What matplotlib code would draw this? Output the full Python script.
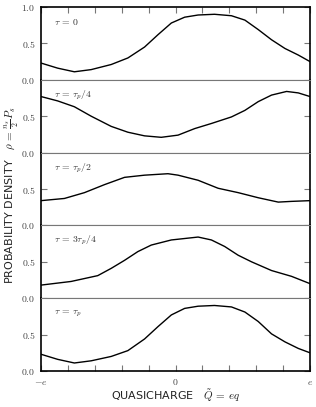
import matplotlib
matplotlib.use("Agg")
import matplotlib.pyplot as plt
import numpy as np

plt.rcParams['mathtext.fontset'] = 'cm'

panel_labels = [r'$\tau\,=\,0$', r'$\tau\,=\,\tau_p/4$', r'$\tau\,=\,\tau_p/2$',
                r'$\tau\,=\,3\tau_p/4$', r'$\tau\,=\,\tau_p$']

x1 = [-1.0, -0.876, -0.752, -0.627, -0.478, -0.354, -0.230, -0.130, -0.031, 0.068, 0.168, 0.29, 0.416, 0.516, 0.615, 0.714, 0.814, 0.913, 1.0]
y1 = [0.23, 0.16, 0.11, 0.14, 0.21, 0.30, 0.45, 0.62, 0.78, 0.86, 0.89, 0.90, 0.88, 0.82, 0.69, 0.55, 0.43, 0.34, 0.25]

x2 = [-1.0, -0.876, -0.752, -0.627, -0.478, -0.354, -0.230, -0.106, 0.019, 0.143, 0.267, 0.416, 0.516, 0.615, 0.714, 0.826, 0.913, 1.0]
y2 = [0.77, 0.71, 0.63, 0.50, 0.36, 0.28, 0.23, 0.21, 0.24, 0.33, 0.40, 0.49, 0.58, 0.70, 0.79, 0.84, 0.82, 0.77]

x3 = [-1.0, -0.826, -0.677, -0.528, -0.379, -0.230, -0.056, 0.019, 0.168, 0.317, 0.466, 0.615, 0.764, 0.863, 1.0]
y3 = [0.34, 0.37, 0.45, 0.56, 0.66, 0.69, 0.71, 0.69, 0.62, 0.51, 0.45, 0.38, 0.32, 0.33, 0.34]

x4 = [-1.0, -0.776, -0.578, -0.478, -0.379, -0.280, -0.180, -0.031, 0.168, 0.267, 0.366, 0.466, 0.565, 0.714, 0.863, 1.0]
y4 = [0.18, 0.23, 0.31, 0.41, 0.52, 0.64, 0.73, 0.80, 0.84, 0.80, 0.71, 0.59, 0.50, 0.38, 0.30, 0.20]

x5 = [-1.0, -0.876, -0.752, -0.627, -0.478, -0.354, -0.230, -0.130, -0.031, 0.068, 0.168, 0.29, 0.416, 0.516, 0.615, 0.714, 0.814, 0.913, 1.0]
y5 = [0.23, 0.16, 0.11, 0.14, 0.20, 0.28, 0.44, 0.61, 0.77, 0.86, 0.89, 0.90, 0.88, 0.81, 0.68, 0.51, 0.40, 0.31, 0.25]

xs = [x1, x2, x3, x4, x5]
ys = [y1, y2, y3, y4, y5]

xtick_pos = [-1.0, -0.8, -0.6, -0.4, -0.2, 0.0, 0.2, 0.4, 0.6, 0.8, 1.0]
xtick_labels = [r'$-e$', '', '', '', '', r'$0$', '', '', '', '', r'$e$']

fig = plt.figure(figsize=(3.16, 4.07), dpi=100)
gs = fig.add_gridspec(5, 1, left=41/316, right=310/316, top=1-7/407, bottom=1-371/407, hspace=0)
axes = [fig.add_subplot(gs[i]) for i in range(5)]

gray = '#777777'
for i, ax in enumerate(axes):
    ax.plot(xs[i], ys[i], color='black', lw=1.0, solid_joinstyle='round')
    ax.set_xlim(-1, 1)
    ax.set_ylim(0, 1.0)
    for s in ['left', 'right']:
        ax.spines[s].set_color('black')
        ax.spines[s].set_linewidth(1.2)
    ax.spines['top'].set_color('black' if i == 0 else gray)
    ax.spines['top'].set_linewidth(1.2 if i == 0 else 0.8)
    ax.spines['bottom'].set_color('black' if i == 4 else gray)
    ax.spines['bottom'].set_linewidth(1.2 if i == 4 else 0.8)
    if i == 0:
        ax.set_yticks([0.0, 0.5, 1.0])
        ax.set_yticklabels([r'$0.0$', r'$0.5$', r'$1.0$'])
    else:
        ax.set_yticks([0.0, 0.5])
        ax.set_yticklabels([r'$0.0$', r'$0.5$'])
    ax.tick_params(axis='y', direction='in', length=4, width=0.8, color=gray,
                   labelsize=7, labelcolor='#444444', right=True, pad=4)
    ax.set_xticks(xtick_pos)
    if i == 4:
        ax.set_xticklabels(xtick_labels)
        ax.tick_params(axis='x', direction='in', length=4, width=0.8, color=gray,
                       labelsize=7, labelcolor='#444444', top=False, bottom=True, pad=4)
    elif i == 0:
        ax.tick_params(axis='x', direction='in', length=4, width=0.8, color=gray,
                       top=True, bottom=False, labelbottom=False)
    else:
        ax.tick_params(axis='x', bottom=False, top=False, labelbottom=False)
    ax.text(0.05, 0.79, panel_labels[i], transform=ax.transAxes, fontsize=7,
            color='#333333', va='center', ha='left')

fig.text(0.035, 0.52, r'PROBABILITY DENSITY   $\rho\,=\,\frac{n_s}{2}P_s$', rotation=90,
         fontsize=8, va='center', ha='center', color='#222222')
fig.text(0.555, 0.027, r'QUASICHARGE   $\tilde{Q}\,=\,eq$', fontsize=8,
         va='center', ha='center', color='#222222')

fig.savefig('out.png', dpi=100)
